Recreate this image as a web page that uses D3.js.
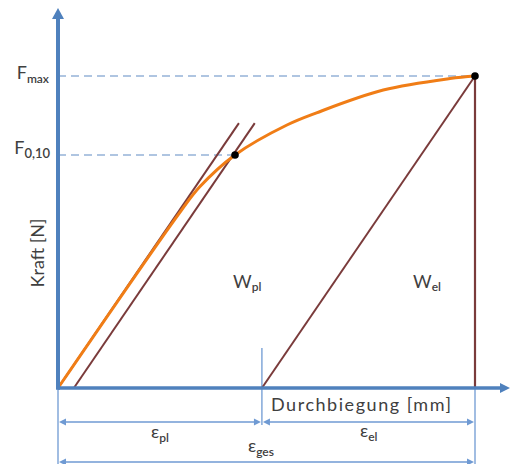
<!DOCTYPE html>
<html>
<head>
<meta charset="utf-8">
<script src="https://cdn.jsdelivr.net/npm/d3@7"></script>
<style>
  html, body { margin: 0; padding: 0; background: #fff; }
  svg { display: block; }
  text { font-family: Lato, "Noto Sans", "DejaVu Sans", sans-serif; fill: #404040; }
</style>
</head>
<body>
<svg id="chart" width="511" height="464"></svg>
<script>
// ---- data (Durchbiegung in mm, Kraft in N; arbitrary units) ----
const curveX = [0, 2.95, 3.4, 4.245, 5.49, 6.2, 7.8, 9.4, 10];
const curveY = [0, 56.8, 64.5, 74.7, 84.3, 88.2, 95.5, 99.2, 100];
const Fmax = { x: 10, y: 100 };
const F010 = { x: 4.245, y: 74.7 };
const epsPl = 4.89;          // plastic deformation (start of unloading line)
const offset = 0.38;         // offset line start
const tangentTopY = 84.9;    // top end of tangent lines
const slope = 19.57;         // elastic slope N/mm
const xAxisMax = 10.84, yAxisMax = 121.8;
const labels = { xTitle: "Durchbiegung [mm]", yTitle: "Kraft [N]" };

const svg = d3.select("#chart");
const x = d3.scaleLinear().domain([0, 10]).range([58, 475]);
const y = d3.scaleLinear().domain([0, 100]).range([388, 76]);

const axisBlue = "#4f81bd", thinBlue = "#6f9ad3", dashBlue = "#95b3d7";
const orange = "#f07d16", brown = "#7a3b3b";

// dashed reference lines
svg.append("line").attr("x1", x(0)).attr("x2", x(Fmax.x)).attr("y1", y(Fmax.y)).attr("y2", y(Fmax.y))
  .attr("stroke", dashBlue).attr("stroke-width", 1.5).attr("stroke-dasharray", "8,5");
svg.append("line").attr("x1", x(0)).attr("x2", x(F010.x)).attr("y1", y(F010.y)).attr("y2", y(F010.y))
  .attr("stroke", dashBlue).attr("stroke-width", 1.5).attr("stroke-dasharray", "8,5");

// thin dimension verticals
function vline(xv, y1, y2) {
  svg.append("line").attr("x1", xv).attr("x2", xv).attr("y1", y1).attr("y2", y2)
    .attr("stroke", thinBlue).attr("stroke-width", 1.3);
}
vline(x(0), 388, 464);
vline(x(epsPl), 348, 425);
vline(x(Fmax.x), 388, 464);

// dimension arrows
function dim(x1, x2, yy) {
  svg.append("line").attr("x1", x1 + 3).attr("x2", x2 - 3).attr("y1", yy).attr("y2", yy)
    .attr("stroke", thinBlue).attr("stroke-width", 1.5);
  svg.append("path").attr("d", `M${x1+1},${yy} L${x1+8},${yy-3.5} L${x1+8},${yy+3.5} Z`).attr("fill", thinBlue);
  svg.append("path").attr("d", `M${x2-1},${yy} L${x2-8},${yy-3.5} L${x2-8},${yy+3.5} Z`).attr("fill", thinBlue);
}
dim(x(0), x(epsPl), 422);
dim(x(epsPl), x(Fmax.x), 422);
dim(x(0), x(Fmax.x), 462);

// brown lines
const tanX = tangentTopY / slope;
svg.append("line").attr("x1", x(0)).attr("y1", y(0)).attr("x2", x(tanX)).attr("y2", y(tangentTopY))
  .attr("stroke", brown).attr("stroke-width", 2);
svg.append("line").attr("x1", x(offset)).attr("y1", y(0)).attr("x2", x(offset + tanX)).attr("y2", y(tangentTopY))
  .attr("stroke", brown).attr("stroke-width", 2);
svg.append("line").attr("x1", x(epsPl)).attr("y1", y(0)).attr("x2", x(Fmax.x)).attr("y2", y(Fmax.y))
  .attr("stroke", brown).attr("stroke-width", 2);
svg.append("line").attr("x1", x(Fmax.x)).attr("y1", y(0)).attr("x2", x(Fmax.x)).attr("y2", y(Fmax.y))
  .attr("stroke", brown).attr("stroke-width", 2.2);

// orange curve
const pts = curveX.map((d, i) => [d, curveY[i]]);
svg.append("path").datum(pts)
  .attr("d", d3.line().x(d => x(d[0])).y(d => y(d[1])).curve(d3.curveCatmullRom.alpha(0.5)))
  .attr("fill", "none").attr("stroke", orange).attr("stroke-width", 3);

// axes
svg.append("line").attr("x1", x(0)).attr("x2", x(xAxisMax) - 8).attr("y1", y(0)).attr("y2", y(0))
  .attr("stroke", axisBlue).attr("stroke-width", 3.5);
svg.append("path").attr("d", `M${x(xAxisMax)},${y(0)} L${x(xAxisMax)-10},${y(0)-5} L${x(xAxisMax)-10},${y(0)+5} Z`).attr("fill", axisBlue);
svg.append("line").attr("x1", x(0)).attr("x2", x(0)).attr("y1", y(0) + 1.75).attr("y2", y(yAxisMax) + 8)
  .attr("stroke", axisBlue).attr("stroke-width", 4);
svg.append("path").attr("d", `M${x(0)},${y(yAxisMax)} L${x(0)-6},${y(yAxisMax)+11} L${x(0)+6},${y(yAxisMax)+11} Z`).attr("fill", axisBlue);

// points
svg.append("circle").attr("cx", x(Fmax.x)).attr("cy", y(Fmax.y)).attr("r", 3.8).attr("fill", "#000");
svg.append("circle").attr("cx", x(F010.x)).attr("cy", y(F010.y)).attr("r", 3.8).attr("fill", "#000");

// labels
function subLabel(tx, ty, main, sub, anchor, mainSize, subSize, dy) {
  const t = svg.append("text").attr("x", tx).attr("y", ty).attr("text-anchor", anchor || "start")
    .style("font-size", mainSize + "px");
  t.append("tspan").text(main);
  t.append("tspan").attr("dy", dy).style("font-size", subSize + "px").style("font-weight", "600").text(sub);
  return t;
}
subLabel(49, 79, "F", "max", "end", 18, 12, 4);
subLabel(50, 154, "F", "0,10", "end", 18, 13, 4);
subLabel(233, 288, "W", "pl", "start", 18, 12, 3);
subLabel(413, 288, "W", "el", "start", 18, 12, 3);
subLabel(151, 438, "ε", "pl", "start", 18, 12, 4);
subLabel(360, 437, "ε", "el", "start", 18, 12, 4);
subLabel(248, 452, "ε", "ges", "start", 18, 12, 4);

svg.append("text").attr("x", 361).attr("y", 411).attr("text-anchor", "middle")
  .attr("textLength", 180).attr("lengthAdjust", "spacing")
  .style("font-size", "18px").text(labels.xTitle);
svg.append("text").attr("transform", "translate(44,253) rotate(-90)").attr("text-anchor", "middle")
  .style("font-size", "18px").text(labels.yTitle);
</script>
</body>
</html>
